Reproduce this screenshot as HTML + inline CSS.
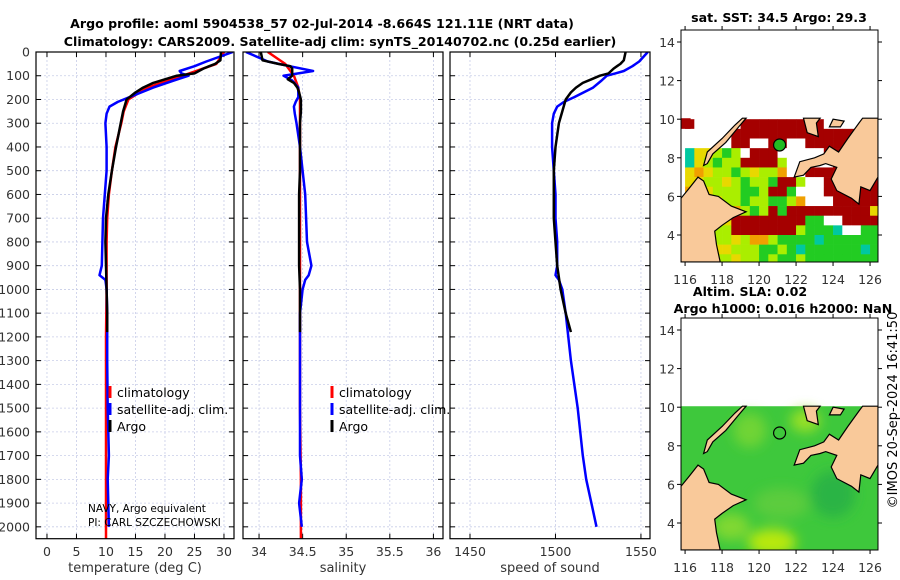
<!DOCTYPE html>
<html><head><meta charset="utf-8">
<style>
html,body{margin:0;padding:0;background:#fff;}
svg{display:block;font-family:"DejaVu Sans","Liberation Sans",sans-serif;}
</style></head>
<body>
<svg id="fig" width="900" height="580" viewBox="0 0 900 580" xmlns="http://www.w3.org/2000/svg">
<g id="titles" font-weight="bold" font-size="12.6" text-anchor="middle" fill="#000">
<text x="322" y="28">Argo profile: aoml 5904538_57 02-Jul-2014 -8.664S 121.11E (NRT data)</text>
<text x="340" y="46">Climatology: CARS2009. Satellite-adj clim: synTS_20140702.nc (0.25d earlier)</text>
<text x="779" y="22">sat. SST: 34.5 Argo: 29.3</text>
<text x="750" y="296">Altim. SLA: 0.02</text>
<text x="783" y="313">Argo h1000: 0.016 h2000: NaN</text>
</g>
<text x="0" y="0" transform="translate(897,410) rotate(-90)" text-anchor="middle" font-size="13">©IMOS 20-Sep-2024 16:41:50</text>
<g id="panels"></g>
<g id="maps"></g>
</svg>
<script>
// ---------- data ----------
const depthTicks = [0,100,200,300,400,500,600,700,800,900,1000,1100,1200,1300,1400,1500,1600,1700,1800,1900,2000];
const tempTicks = [0,5,10,15,20,25,30];
const salTicks = [34,34.5,35,35.5,36];
const salTickLabels = ["34","34.5","35","35.5","36"];
const sosTicks = [1450,1500,1550];

const argoDepth = [0,35,50,60,70,90,100,115,130,150,170,200,250,300,350,400,500,600,700,800,900,1000,1100,1180];
const argoTemp  = [29.5,29.4,28.5,27.5,26.5,25,22,20,18,16.3,15,13.5,12.9,12.5,12.1,11.7,11,10.4,10,9.9,10,10.1,10.2,10.2];
const argoSal   = [34.02,34.04,34.22,34.36,34.38,34.38,34.38,34.33,34.4,34.44,34.46,34.48,34.48,34.47,34.47,34.47,34.47,34.46,34.46,34.46,34.46,34.47,34.47,34.47];
const argoSos   = [1541,1540,1538,1536,1534,1531,1526,1521,1516,1512,1509,1506,1504,1502,1501,1500,1499,1499,1499,1500,1501,1503,1506,1509];

const climDepth = [0,50,100,150,200,250,300,400,500,600,700,800,1000,1200,1500,1800,2050];
const climTemp  = [30,28.7,23,17,13.8,13,12.6,11.6,11,10.5,10.2,10.1,10.1,10,10,10,10];
const climSal   = [34.1,34.3,34.4,34.45,34.47,34.47,34.47,34.47,34.47,34.47,34.47,34.47,34.47,34.47,34.47,34.48,34.48];

const blueDepth = [0,40,60,80,90,100,120,150,190,210,230,260,300,400,500,600,700,800,900,940,960,1000,1100,1300,1500,1700,1800,1900,2000];
const blueTemp  = [31.5,27,25,22.5,22.8,24,21.5,18,14,12,10.6,10.1,9.9,10.1,10.1,9.8,9.5,9.4,9.3,8.9,9.9,10.1,10.2,10.2,10.3,10.5,10.3,10.4,10.5];
const blueSal   = [33.85,34.1,34.35,34.62,34.45,34.28,34.38,34.45,34.45,34.42,34.4,34.41,34.43,34.47,34.5,34.53,34.54,34.55,34.6,34.57,34.53,34.5,34.47,34.47,34.47,34.47,34.49,34.46,34.49];
const blueSos   = [1554,1549,1545,1540,1535,1530,1527,1522,1511,1505,1501,1499,1498,1498,1499,1500,1500,1501,1501,1500,1502,1504,1506,1509,1513,1516,1518,1521,1524];

const gridRows = [
"RWWWWWRRRRRRRRRWWWWWO",
"WWWWWRRRRRRRRRRRRRRRR",
"WWWWWRRWWRRWWRRRRRRRR",
"CYYLGLWRRRWWWWWRRRRRR",
"CYLGLLRRRRLWWWWWRRRRR",
"YOYLLGLYLLOWWRRRRRRRR",
"YYLLYLGLLGRRLWWRRRRRR",
"OYYLLLGGLRRGWWWRRRRRR",
"LOOYLLGLLGGLOWWWRRRRR",
"LLOYYOLGLRGRRRRRRRRRY",
"LLLLYRRRRRRRRGGWWRRRR",
"LYLLLRRRRRRRLGGGCWWGG",
"LLYLLYLOOLGGGGCGGGGGG",
"LLLYYLLLGGLGCGGGGGGCG",
"LYLLLYLLGLGGLGGGGGGGG"];

const borneo = [[115.78,2.6],[115.78,5.9],[116.2,6.4],[116.7,7],[117,6.8],[117.3,6.1],[117.8,6],[118.5,5.5],[119.3,5.2],[118.6,4.9],[118,4.5],[117.6,4.2],[117.7,3.5],[117.9,2.6]];
const mindanao = [[121.9,7.0],[122.2,7.8],[123,8.0],[123.5,8.2],[123.8,8.6],[124.3,8.3],[124.8,9.0],[125.4,9.8],[125.6,10.05],[126.43,10.05],[126.43,7.0],[126,6.3],[125.5,6.5],[125.4,5.6],[125,5.9],[124.2,6.3],[123.9,6.9],[124.2,7.5],[123.6,7.7],[123.3,7.6],[122.8,7.5],[122.4,7.1]];
const negros = [[122.4,10.05],[122.6,9.3],[123.2,9.1],[123.1,9.8],[123.3,10.05]];
const bohol = [[123.8,9.6],[124.4,9.6],[124.6,9.9],[124.0,10.0]];
const palawan = [[117,7.6],[117.2,8.3],[118,9],[118.7,9.7],[119.1,10.05],[119.3,10.05],[118.9,9.6],[118.2,8.8],[117.5,8.2],[117.2,7.7]];
const argoPos = [121.11,8.664];

// ---------- helpers ----------
const NS="http://www.w3.org/2000/svg";
function mk(tag,attrs,parent){const e=document.createElementNS(NS,tag);for(const k in attrs)e.setAttribute(k,attrs[k]);parent.appendChild(e);return e;}
const Y0=52, Y1=538.7, DMAX=2050;
const yD = d => Y0 + d/DMAX*(Y1-Y0);
const panelsG=document.getElementById('panels');

function panel(name,x0,x1,vmin,vmax,ticks,labels,xlabel,series,legend){
  const g=mk('g',{},panelsG);
  
  
  const xs=v=>x0+(v-vmin)/(vmax-vmin)*(x1-x0);
  depthTicks.forEach(d=>{const l=mk('line',{x1:x0,x2:x1,y1:yD(d),y2:yD(d),stroke:'#c8cde8','stroke-width':0.8,'stroke-dasharray':'2,2'},g);
    
    });
  ticks.forEach((t,i)=>{const l=mk('line',{x1:xs(t),x2:xs(t),y1:Y0,y2:Y1,stroke:'#c8cde8','stroke-width':0.8,'stroke-dasharray':'2,2'},g);
    
    
    mk('line',{x1:xs(t),x2:xs(t),y1:Y1,y2:Y1-5,stroke:'#000'},g);
    mk('line',{x1:xs(t),x2:xs(t),y1:Y0,y2:Y0+5,stroke:'#000'},g);
    const tx=mk('text',{x:xs(t),y:556,'text-anchor':'middle','font-size':12.5,fill:'#333'},g);
    tx.textContent=labels[i];
    
    });
  depthTicks.forEach(d=>{mk('line',{x1:x0,x2:x0+5,y1:yD(d),y2:yD(d),stroke:'#000'},g);mk('line',{x1:x1,x2:x1-5,y1:yD(d),y2:yD(d),stroke:'#000'},g);});
  const xl=mk('text',{x:(x0+x1)/2,y:572,'text-anchor':'middle','font-size':13,fill:'#333'},g);
  xl.textContent=xlabel;
  
  
  const cp=mk('clipPath',{id:'cp-'+name},g);
  mk('rect',{x:x0,y:Y0,width:x1-x0,height:Y1-Y0},cp);
  series.forEach(s=>{
    const pts=s.d.map((d,i)=>xs(s.v[i]).toFixed(1)+','+yD(d).toFixed(1)).join(' ');
    const p=mk('polyline',{points:pts,fill:'none',stroke:s.c,'stroke-width':s.w,'stroke-linejoin':'round','clip-path':'url(#cp-'+name+')'},g);
    
    
  });
  const fr=mk('rect',{x:x0,y:Y0,width:x1-x0,height:Y1-Y0,fill:'none',stroke:'#000','stroke-width':1.2},g);
  
  
  if(legend){
    const lg=mk('g',{},g);
    
    
    [['climatology','#f00'],['satellite-adj. clim.','#00f'],['Argo','#000']].forEach((it,i)=>{
      const y=392+i*17;
      mk('line',{x1:legend,x2:legend,y1:y-6,y2:y+6,stroke:it[1],'stroke-width':3},lg);
      const t=mk('text',{x:legend+7,y:y+5,'font-size':12.5,fill:'#000'},lg);
      t.textContent=it[0];
      
      
    });
  }
  return g;
}

const g1=panel('temperature',36,234,-1.86,31.7,tempTicks,tempTicks.map(String),'temperature (deg C)',[
 {n:'climatology-temp-line',d:climDepth,v:climTemp,c:'#f00',w:2.5},
 {n:'satadj-temp-line',d:blueDepth,v:blueTemp,c:'#00f',w:2.5},
 {n:'argo-temp-line',d:argoDepth,v:argoTemp,c:'#000',w:2.5}],110);
depthTicks.forEach(d=>{const t=mk('text',{x:30,y:yD(d)+4.5,'text-anchor':'end','font-size':12.5,fill:'#333'},g1);
  t.textContent=d;
  
  });
[['NAVY, Argo equivalent',512],['PI: CARL SZCZECHOWSKI',526]].forEach(a=>{const t=mk('text',{x:88,y:a[1],'font-size':10.5,fill:'#000'},g1);
  t.textContent=a[0];
  
  });
panel('salinity',243,443,33.816,36.11,salTicks,salTickLabels,'salinity',[
 {n:'climatology-sal-line',d:climDepth,v:climSal,c:'#f00',w:2.5},
 {n:'satadj-sal-line',d:blueDepth,v:blueSal,c:'#00f',w:2.5},
 {n:'argo-sal-line',d:argoDepth,v:argoSal,c:'#000',w:2.5}],332);
panel('sound-speed',450,650,1438.3,1555.3,sosTicks,sosTicks.map(String),'speed of sound',[
 {n:'satadj-sos-line',d:blueDepth,v:blueSos,c:'#00f',w:2.5},
 {n:'argo-sos-line',d:argoDepth,v:argoSos,c:'#000',w:2.5}],null);

// ---------- maps ----------
const mapsG=document.getElementById('maps');
const colors={R:'#a50000',W:'#ffffff',Y:'#e8d800',G:'#22cc22',L:'#aaee00',O:'#f0a000',C:'#00c8a0'};
function map(name,top,kind){
  const X0=681,X1=878,LON0=115.78,LON1=126.43;
  const lx=l=>X0+(l-LON0)/(LON1-LON0)*(X1-X0);
  const ly=l=>top+12+(14-l)*19.3;
  const bot=top+232;
  const g=mk('g',{},mapsG);
  
  
  const cp=mk('clipPath',{id:'cp-'+name},g);
  mk('rect',{x:X0,y:top,width:X1-X0,height:232},cp);
  const inner=mk('g',{'clip-path':'url(#cp-'+name+')'},g);
  if(kind==='sst'){
    gridRows.forEach((row,r)=>{for(let c=0;c<row.length;c++){
      const lat=10-r*0.5, lon=116+c*0.5;
      mk('rect',{x:lx(lon),y:ly(lat),width:lx(lon+0.5)-lx(lon)+0.3,height:ly(lat-0.5)-ly(lat)+0.3,fill:colors[row[c]]},inner);
    }});
    mk('rect',{x:lx(115.78),y:ly(10.05),width:lx(116.3)-lx(115.78),height:ly(9.5)-ly(10.05),fill:colors.R},inner);
  } else {
    const f=mk('filter',{id:'blur-'+name},g); mk('feGaussianBlur',{stdDeviation:6},f);
    mk('rect',{x:X0,y:ly(10.05),width:X1-X0,height:bot-ly(10.05),fill:'#3ec83c'},inner);
    const bl=mk('g',{filter:'url(#blur-'+name+')'},inner);
    [[119.5,8.8,0.9,0.9,'#70d434'],[120.7,3.0,1.3,0.7,'#b8e810'],[122.5,9.3,0.8,0.6,'#98e028'],[121.2,5.0,1.5,0.8,'#5ccc3c'],[124,5.5,1.2,1.2,'#2cb444'],[118.5,3.8,1.0,0.7,'#80d830']].forEach(e=>{
      mk('ellipse',{cx:lx(e[0]),cy:ly(e[1]),rx:e[2]*18.5,ry:e[3]*19.3,fill:e[4]},bl);
    });
  }
  [borneo,mindanao,negros,bohol,palawan].forEach(poly=>{
    const p=mk('polygon',{points:poly.map(q=>lx(q[0]).toFixed(1)+','+ly(q[1]).toFixed(1)).join(' '),fill:'#f9c99a',stroke:'#000','stroke-width':1.2},inner);
    
    
  });
  const c=mk('circle',{cx:lx(argoPos[0]),cy:ly(argoPos[1]),r:6,fill:kind==='sst'?'#22bb22':'none',stroke:'#000','stroke-width':1.2},g);
  
  
  const fr=mk('rect',{x:X0,y:top,width:X1-X0,height:232,fill:'none',stroke:'#000','stroke-width':1},g);
  
  
  [4,6,8,10,12,14].forEach(l=>{
    mk('line',{x1:X0,x2:X0-4,y1:ly(l),y2:ly(l),stroke:'#000'},g);
    mk('line',{x1:X1,x2:X1+4,y1:ly(l),y2:ly(l),stroke:'#000'},g);
    const t=mk('text',{x:X0-6,y:ly(l)+5,'text-anchor':'end','font-size':12.5,fill:'#333'},g);
    t.textContent=l;
    
    
  });
  [116,118,120,122,124,126].forEach(l=>{
    mk('line',{x1:lx(l),x2:lx(l),y1:bot,y2:bot+4,stroke:'#000'},g);
    mk('line',{x1:lx(l),x2:lx(l),y1:top,y2:top-4,stroke:'#000'},g);
    const t=mk('text',{x:lx(l),y:bot+22,'text-anchor':'middle','font-size':12.5,fill:'#333'},g);
    t.textContent=l;
    
    
  });
}
map('sst-map',30,'sst');
map('sla-map',318,'sla');
</script>
</body></html>
